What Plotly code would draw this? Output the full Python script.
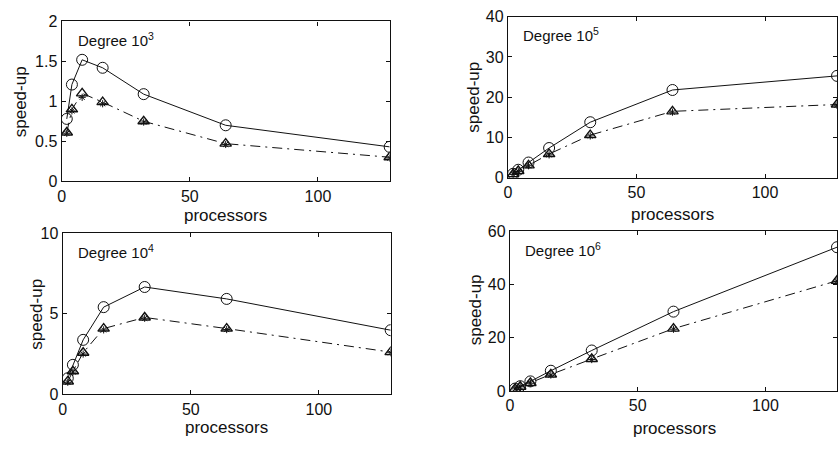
import plotly.graph_objects as go

# ---------------- data ----------------
processors = [2, 4, 8, 16, 32, 64, 128]

deg3_circle = [0.78, 1.21, 1.52, 1.42, 1.09, 0.70, 0.43]
deg3_tri = [0.61, 0.90, 1.10, 0.99, 0.75, 0.47, 0.30]
deg3_star = [0.60, 0.88, 1.05, 0.97, 0.74, 0.46, 0.29]

deg5_circle = [1.0, 2.0, 3.8, 7.4, 13.8, 21.8, 25.3]
deg5_tri = [0.9, 1.7, 3.1, 5.9, 10.6, 16.5, 18.2]
deg5_star = [0.85, 1.6, 3.0, 5.7, 10.4, 16.3, 18.0]

deg4_circle = [1.0, 1.83, 3.38, 5.41, 6.66, 5.92, 3.98]
deg4_tri = [0.8, 1.43, 2.58, 4.08, 4.77, 4.08, 2.62]
deg4_star = [0.75, 1.38, 2.5, 4.0, 4.72, 4.02, 2.58]

deg6_circle = [0.9, 1.8, 3.6, 7.6, 15.2, 29.8, 54.0]
deg6_tri = [0.8, 1.6, 3.0, 6.2, 12.0, 23.4, 41.4]
deg6_star = [0.78, 1.55, 2.9, 6.0, 11.8, 23.2, 41.2]

panel_titles = ["Degree 10<sup>3</sup>", "Degree 10<sup>5</sup>",
                "Degree 10<sup>4</sup>", "Degree 10<sup>6</sup>"]
y_ranges = [[0, 2], [0, 40], [0, 10], [0, 60]]
y_ticks = [[0, 0.5, 1, 1.5, 2], [0, 10, 20, 30, 40], [0, 5, 10], [0, 20, 40, 60]]
y_ticktext = [["0", "0.5", "1", "1.5", "2"], ["0", "10", "20", "30", "40"],
              ["0", "5", "10"], ["0", "20", "40", "60"]]
x_ticks = [0, 50, 100]
x_label = "processors"
y_label = "speed-up"

panels = [
    (deg3_circle, deg3_tri, deg3_star),
    (deg5_circle, deg5_tri, deg5_star),
    (deg4_circle, deg4_tri, deg4_star),
    (deg6_circle, deg6_tri, deg6_star),
]

# ---------------- layout geometry ----------------
W, H = 838, 450
x_domains = [[58 / W, 388 / W], [507 / W, 1.0], [59 / W, 389 / W], [509 / W, 1.0]]
y_domains = [[1 - 180 / H, 1 - 14 / H], [1 - 176.5 / H, 1 - 9 / H],
             [1 - 401.5 / H, 1 - 234 / H], [1 - 398 / H, 1 - 232 / H]]
title_pos = [(72, 33), (520, 28), (72, 253), (522, 251)]
ylab_pos = [(16, 97), (472, 93), (33, 318), (474, 314)]
xlab_pos = [(223, 216), (673, 215), (224, 436), (675, 437)]

FONT = "Liberation Sans, Arial, Helvetica, sans-serif"
INK = "#111111"

fig = go.Figure()

for i, (circ, tri, star) in enumerate(panels):
    xa = "x" if i == 0 else f"x{i+1}"
    ya = "y" if i == 0 else f"y{i+1}"
    fig.add_trace(go.Scatter(
        x=processors, y=star, xaxis=xa, yaxis=ya, mode="markers",
        marker=dict(symbol="asterisk-open", size=6, color=INK,
                    line=dict(color=INK, width=1)),
        showlegend=False))
    fig.add_trace(go.Scatter(
        x=processors, y=tri, xaxis=xa, yaxis=ya, mode="lines+markers",
        line=dict(color=INK, width=1, dash="10px,5px,2px,5px"),
        marker=dict(symbol="triangle-up-open", size=10, color=INK,
                    line=dict(color=INK, width=1.4)),
        showlegend=False))
    fig.add_trace(go.Scatter(
        x=processors, y=circ, xaxis=xa, yaxis=ya, mode="lines+markers",
        line=dict(color=INK, width=1),
        marker=dict(symbol="circle-open", size=11, color=INK,
                    line=dict(color=INK, width=1)),
        showlegend=False))

layout = dict(
    width=W, height=H,
    margin=dict(l=0, r=0, t=0, b=0),
    paper_bgcolor="white", plot_bgcolor="white",
    font=dict(family=FONT, size=16, color=INK),
    showlegend=False,
)

annotations = []
for i in range(4):
    sfx = "" if i == 0 else str(i + 1)
    anchor_x = "y" + sfx
    anchor_y = "x" + sfx
    layout["xaxis" + sfx] = dict(
        domain=x_domains[i], anchor=anchor_x, range=[0, 128],
        tickmode="array", tickvals=x_ticks, ticktext=[str(v) for v in x_ticks],
        ticks="inside", ticklen=4, tickwidth=1, tickcolor=INK,
        showline=True, linecolor=INK, linewidth=1.3, mirror="ticks",
        showgrid=False, zeroline=False,
        tickfont=dict(family=FONT, size=16, color=INK),
    )
    layout["yaxis" + sfx] = dict(
        domain=y_domains[i], anchor=anchor_y, range=y_ranges[i],
        tickmode="array", tickvals=y_ticks[i], ticktext=y_ticktext[i],
        ticks="inside", ticklen=4, tickwidth=1, tickcolor=INK,
        showline=True, linecolor=INK, linewidth=1.3, mirror="ticks",
        showgrid=False, zeroline=False,
        tickfont=dict(family=FONT, size=16, color=INK),
    )
    tx, ty = title_pos[i]
    annotations.append(dict(
        text=panel_titles[i], xref="paper", yref="paper",
        x=tx / W, y=1 - ty / H, xanchor="left", yanchor="middle",
        showarrow=False, font=dict(family=FONT, size=15, color=INK)))
    lx, ly = ylab_pos[i]
    annotations.append(dict(
        text=y_label, xref="paper", yref="paper",
        x=lx / W, y=1 - ly / H, xanchor="center", yanchor="middle",
        textangle=-90, showarrow=False,
        font=dict(family=FONT, size=17, color=INK)))
    px, py = xlab_pos[i]
    annotations.append(dict(
        text=x_label, xref="paper", yref="paper",
        x=px / W, y=1 - py / H, xanchor="center", yanchor="middle",
        showarrow=False, font=dict(family=FONT, size=17, color=INK)))

layout["annotations"] = annotations
fig.update_layout(**layout)

fig.write_html("out.html")
